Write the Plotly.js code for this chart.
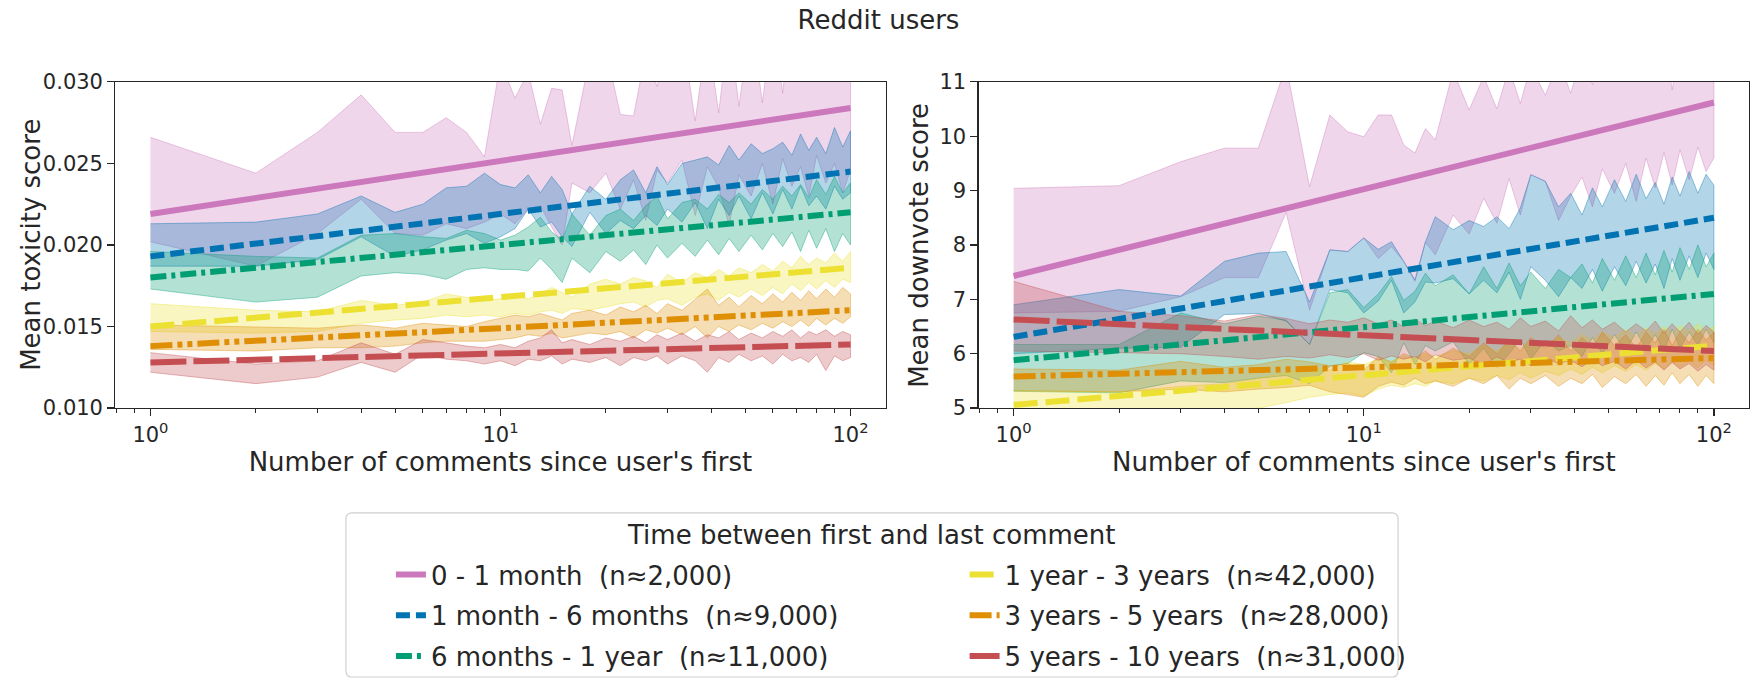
<!DOCTYPE html>
<html>
<head>
<meta charset="utf-8">
<script src="https://cdn.plot.ly/plotly-3.0.1.min.js"></script>
<style>body{margin:0;background:#fff}</style>
</head>
<body>
<div id="graphDiv" style="width:1757px;height:688px"></div>
<script>
// comment index (x) where the bands are sampled
const comments = [1,2,3,4,5,6,7,8,9,10,11,12,13,14,15,16,18,20,22,24,26,28,30,33,36,39,42,45,48,52,56,60,64,68,72,76,80,85,90,95,100];
const fitComments = [1, 100];

const groupLabels = [
    "0 - 1 month \u00a0(n\u22482,000)",
    "1 month - 6 months \u00a0(n\u22489,000)",
    "6 months - 1 year \u00a0(n\u224811,000)",
    "1 year - 3 years \u00a0(n\u224842,000)",
    "3 years - 5 years \u00a0(n\u224828,000)",
    "5 years - 10 years \u00a0(n\u224831,000)"
];

// mean toxicity score, band upper / lower
const toxHi_m0_1 = [0.0266,0.0244,0.0269,0.0292,0.0269,0.0269,0.0278,0.0269,0.0254,0.0312,0.0290,0.0306,0.0274,0.0296,0.0295,0.0261,0.0315,0.0320,0.0280,0.0279,0.0318,0.0297,0.0325,0.0330,0.0276,0.0330,0.0281,0.0335,0.0285,0.0340,0.0287,0.0340,0.0293,0.0345,0.0335,0.0300,0.0350,0.0310,0.0345,0.0320,0.0340];
const toxLo_m0_1 = [0.0202,0.0187,0.0207,0.0228,0.0207,0.0206,0.0213,0.0210,0.0214,0.0219,0.0213,0.0222,0.0224,0.0211,0.0200,0.0238,0.0232,0.0244,0.0222,0.0240,0.0215,0.0246,0.0238,0.0252,0.0218,0.0248,0.0235,0.0212,0.0243,0.0230,0.0250,0.0225,0.0253,0.0236,0.0248,0.0230,0.0255,0.0238,0.0250,0.0232,0.0246];
const toxHi_m1_6 = [0.0213,0.0214,0.0219,0.0230,0.0220,0.0225,0.0235,0.0236,0.0244,0.0237,0.0235,0.0243,0.0232,0.0242,0.0234,0.0219,0.0236,0.0228,0.0240,0.0246,0.0232,0.0248,0.0237,0.0250,0.0252,0.0254,0.0249,0.0261,0.0252,0.0262,0.0256,0.0259,0.0263,0.0255,0.0268,0.0258,0.0266,0.0256,0.0272,0.0260,0.0270];
const toxLo_m1_6 = [0.0187,0.0187,0.0191,0.0205,0.0193,0.0197,0.0203,0.0207,0.0201,0.0205,0.0210,0.0222,0.0211,0.0214,0.0205,0.0199,0.0220,0.0207,0.0215,0.0210,0.0218,0.0212,0.0222,0.0214,0.0226,0.0210,0.0228,0.0218,0.0230,0.0216,0.0232,0.0219,0.0234,0.0222,0.0236,0.0224,0.0230,0.0222,0.0236,0.0228,0.0232];
const toxHi_m6_12 = [0.0196,0.0193,0.0192,0.0206,0.0207,0.0205,0.0204,0.0209,0.0207,0.0203,0.0206,0.0211,0.0217,0.0208,0.0203,0.0219,0.0206,0.0218,0.0222,0.0215,0.0224,0.0230,0.0216,0.0226,0.0228,0.0222,0.0231,0.0226,0.0232,0.0225,0.0234,0.0228,0.0236,0.0230,0.0237,0.0229,0.0240,0.0231,0.0242,0.0232,0.0238];
const toxLo_m6_12 = [0.0173,0.0165,0.0168,0.0181,0.0183,0.0182,0.0179,0.0185,0.0186,0.0185,0.0185,0.0184,0.0192,0.0185,0.0177,0.0192,0.0183,0.0196,0.0190,0.0197,0.0188,0.0200,0.0192,0.0201,0.0193,0.0203,0.0194,0.0204,0.0196,0.0206,0.0197,0.0207,0.0199,0.0208,0.0196,0.0209,0.0198,0.0210,0.0196,0.0207,0.0200];
const toxHi_y1_3 = [0.0164,0.0160,0.0159,0.0166,0.0163,0.0165,0.0170,0.0168,0.0166,0.0167,0.0169,0.0167,0.0170,0.0174,0.0171,0.0168,0.0176,0.0179,0.0176,0.0180,0.0178,0.0174,0.0182,0.0177,0.0183,0.0180,0.0185,0.0181,0.0186,0.0183,0.0188,0.0184,0.0190,0.0186,0.0193,0.0188,0.0192,0.0189,0.0195,0.0190,0.0196];
const toxLo_y1_3 = [0.0147,0.0146,0.0147,0.0152,0.0154,0.0155,0.0157,0.0156,0.0157,0.0156,0.0158,0.0157,0.0159,0.0160,0.0158,0.0161,0.0160,0.0162,0.0164,0.0165,0.0162,0.0166,0.0167,0.0163,0.0168,0.0170,0.0166,0.0171,0.0168,0.0173,0.0169,0.0174,0.0170,0.0176,0.0172,0.0177,0.0173,0.0178,0.0174,0.0179,0.0177];
const toxHi_y3_5 = [0.0151,0.0150,0.0149,0.0151,0.0149,0.0152,0.0151,0.0150,0.0153,0.0155,0.0157,0.0156,0.0158,0.0156,0.0154,0.0158,0.0160,0.0157,0.0162,0.0159,0.0163,0.0158,0.0164,0.0160,0.0167,0.0173,0.0163,0.0168,0.0162,0.0169,0.0164,0.0170,0.0165,0.0171,0.0166,0.0172,0.0167,0.0173,0.0168,0.0174,0.0170];
const toxLo_y3_5 = [0.0136,0.0135,0.0137,0.0137,0.0138,0.0140,0.0141,0.0141,0.0141,0.0142,0.0143,0.0145,0.0144,0.0146,0.0143,0.0144,0.0146,0.0145,0.0147,0.0143,0.0148,0.0146,0.0149,0.0145,0.0150,0.0143,0.0150,0.0147,0.0151,0.0148,0.0152,0.0149,0.0153,0.0150,0.0154,0.0150,0.0155,0.0151,0.0155,0.0152,0.0156];
const toxHi_y5_10 = [0.0134,0.0127,0.0129,0.0140,0.0133,0.0142,0.0140,0.0138,0.0137,0.0139,0.0137,0.0141,0.0143,0.0148,0.0140,0.0142,0.0139,0.0143,0.0141,0.0144,0.0140,0.0145,0.0142,0.0146,0.0141,0.0145,0.0143,0.0147,0.0142,0.0146,0.0143,0.0147,0.0144,0.0148,0.0143,0.0147,0.0145,0.0148,0.0144,0.0147,0.0145];
const toxLo_y5_10 = [0.0122,0.0115,0.0119,0.0128,0.0122,0.0133,0.0130,0.0129,0.0127,0.0129,0.0126,0.0130,0.0129,0.0132,0.0127,0.0130,0.0128,0.0131,0.0126,0.0131,0.0129,0.0132,0.0127,0.0132,0.0129,0.0122,0.0131,0.0128,0.0133,0.0129,0.0132,0.0127,0.0133,0.0129,0.0131,0.0128,0.0133,0.0123,0.0132,0.0129,0.0131];

// fitted trend at 1 and 100 comments
const toxFit_m0_1 = [0.0219, 0.0284];
const toxFit_m1_6 = [0.0193, 0.0245];
const toxFit_m6_12 = [0.0180, 0.0220];
const toxFit_y1_3 = [0.0150, 0.0186];
const toxFit_y3_5 = [0.0138, 0.0160];
const toxFit_y5_10 = [0.0128, 0.0139];

// mean downvote score, band upper / lower
const dvHi_m0_1 = [9.04,9.09,9.53,9.78,9.78,11.30,9.07,10.39,10.08,9.99,10.39,10.39,9.84,9.69,10.14,9.93,11.20,10.48,11.10,10.50,11.25,10.60,11.30,10.75,11.40,10.79,11.50,10.95,11.60,11.10,11.70,11.00,11.80,11.20,11.90,10.85,11.80,11.40,12.00,11.30,11.90];
const dvLo_m0_1 = [6.75,6.78,7.05,7.40,7.40,8.60,6.80,7.91,7.88,8.13,7.75,7.97,7.70,7.33,8.05,7.82,8.55,8.20,8.86,8.40,9.22,8.55,9.30,9.17,8.45,8.90,9.25,8.70,9.40,8.95,9.50,8.80,9.60,9.05,9.70,9.10,9.75,9.20,9.80,9.35,9.60];
const dvHi_m1_6 = [6.90,7.18,7.06,7.70,7.85,7.88,6.95,7.91,7.88,8.13,7.92,8.06,7.70,7.36,8.06,8.52,8.28,8.45,8.34,8.52,8.30,8.68,9.29,9.17,8.70,8.95,8.55,9.05,8.70,9.20,8.80,9.30,8.85,9.15,8.75,9.25,8.90,9.35,8.95,9.30,9.10];
const dvLo_m1_6 = [6.00,6.10,6.12,6.72,6.74,6.60,6.17,7.18,7.12,6.75,6.97,7.35,6.75,6.95,7.32,7.30,7.38,7.10,7.35,7.12,7.50,7.00,7.60,7.35,7.05,7.40,7.20,7.55,7.15,7.60,7.25,7.70,7.30,7.65,7.20,7.75,7.35,7.80,7.40,7.85,7.55];
const dvHi_m6_12 = [6.17,6.17,6.75,6.55,6.69,6.62,6.17,7.12,7.18,6.85,7.10,7.42,6.98,7.15,7.48,7.25,7.45,7.10,7.60,7.20,7.67,7.25,7.50,7.20,7.55,7.40,7.65,7.30,7.75,7.35,7.80,7.40,7.85,7.45,7.90,7.50,7.95,7.55,8.00,7.60,7.85];
const dvLo_m6_12 = [5.31,5.28,5.50,5.47,5.55,5.60,5.45,5.77,5.82,6.02,5.95,5.65,6.20,5.80,6.15,6.05,6.22,5.80,6.10,5.75,6.00,6.26,5.90,6.25,6.05,6.15,5.95,6.30,6.00,6.35,6.05,6.40,6.10,6.35,6.05,6.45,6.10,6.40,6.15,6.45,6.20];
const dvHi_y1_3 = [5.32,5.30,5.40,5.45,5.55,5.65,5.75,5.70,5.85,5.80,5.90,5.85,5.95,5.90,6.00,5.95,6.05,6.00,6.15,6.05,6.20,6.10,6.25,6.15,6.30,6.20,6.35,6.25,6.40,6.30,6.45,6.32,6.48,6.35,6.50,6.38,6.52,6.40,6.55,6.42,6.50];
const dvLo_y1_3 = [4.80,4.85,4.90,4.95,5.00,5.10,5.20,5.25,5.28,5.22,5.35,5.42,5.38,5.45,5.40,5.50,5.45,5.55,5.50,5.60,5.52,5.65,5.55,5.68,5.60,5.72,5.62,5.75,5.65,5.78,5.68,5.80,5.70,5.82,5.72,5.85,5.75,5.86,5.74,5.88,5.78];
const dvHi_y3_5 = [5.72,5.70,5.86,5.75,5.80,5.90,5.85,5.78,5.82,5.70,5.95,5.85,6.00,5.92,6.05,5.90,6.10,5.95,6.20,6.00,6.25,6.05,6.30,6.10,6.35,6.05,6.30,6.10,6.40,6.15,6.35,6.10,6.40,6.20,6.45,6.15,6.40,6.20,6.45,6.25,6.40];
const dvLo_y3_5 = [5.32,5.30,5.35,5.30,5.35,5.38,5.42,5.30,5.25,5.20,5.40,5.48,5.42,5.55,5.45,5.50,5.40,5.55,5.45,5.60,5.35,5.55,5.45,5.60,5.40,5.55,5.45,5.62,5.38,5.58,5.45,5.62,5.40,5.60,5.42,5.65,5.45,5.62,5.40,5.60,5.45];
const dvHi_y5_10 = [7.33,6.78,6.70,6.60,6.72,6.65,6.55,6.62,6.58,6.66,6.55,6.62,6.50,6.64,6.52,6.60,6.48,6.62,6.50,6.58,6.45,6.66,6.50,6.60,6.42,6.70,6.48,6.62,6.45,6.58,6.40,6.55,6.42,6.60,6.38,6.55,6.40,6.58,6.36,6.52,6.40];
const dvLo_y5_10 = [6.05,6.02,6.00,5.95,5.90,5.95,5.92,5.98,5.93,6.00,5.88,5.96,5.90,5.95,5.85,5.98,5.88,5.92,5.80,5.94,5.85,5.90,5.78,5.92,5.82,5.88,5.76,5.90,5.78,5.86,5.72,5.88,5.74,5.85,5.70,5.84,5.72,5.82,5.68,5.80,5.70];

const dvFit_m0_1 = [7.43, 10.62];
const dvFit_m1_6 = [6.31, 8.50];
const dvFit_m6_12 = [5.88, 7.10];
const dvFit_y1_3 = [5.06, 6.15];
const dvFit_y3_5 = [5.58, 5.92];
const dvFit_y5_10 = [6.63, 6.05];

const toxBands = [[toxHi_m0_1,toxLo_m0_1],[toxHi_m1_6,toxLo_m1_6],[toxHi_m6_12,toxLo_m6_12],[toxHi_y1_3,toxLo_y1_3],[toxHi_y3_5,toxLo_y3_5],[toxHi_y5_10,toxLo_y5_10]];
const toxFits = [toxFit_m0_1,toxFit_m1_6,toxFit_m6_12,toxFit_y1_3,toxFit_y3_5,toxFit_y5_10];
const dvBands = [[dvHi_m0_1,dvLo_m0_1],[dvHi_m1_6,dvLo_m1_6],[dvHi_m6_12,dvLo_m6_12],[dvHi_y1_3,dvLo_y1_3],[dvHi_y3_5,dvLo_y3_5],[dvHi_y5_10,dvLo_y5_10]];
const dvFits = [dvFit_m0_1,dvFit_m1_6,dvFit_m6_12,dvFit_y1_3,dvFit_y3_5,dvFit_y5_10];

// styles
const palette = [[204,120,188],[1,115,178],[2,158,115],[236,225,51],[222,143,5],[196,78,82]];
const dashes = ["solid","14px,6px","16px,5px,4px,5px","24px,8px","22px,5px,5px,5px,5px,5px","36px,7px"];

function rgba(c, a) { return "rgba(" + c.join(",") + "," + a + ")"; }

function band(hi, lo, i, xa, ya) {
    return {
        x: comments.concat(comments.slice().reverse()),
        y: hi.concat(lo.slice().reverse()),
        type: "scatter", mode: "lines", fill: "toself",
        fillcolor: rgba(palette[i], 0.3),
        line: {color: rgba(palette[i], 0.4), width: 1},
        xaxis: xa, yaxis: ya, showlegend: false, hoverinfo: "skip"
    };
}
function fitLine(vals, i, xa, ya, legendOn) {
    return {
        x: fitComments, y: vals, type: "scatter", mode: "lines",
        name: groupLabels[i], legendgroup: "g" + i,
        legend: i < 3 ? "legend" : "legend2",
        line: {color: rgba(palette[i], 1), width: 6, dash: dashes[i]},
        xaxis: xa, yaxis: ya, showlegend: legendOn, hoverinfo: "skip"
    };
}

let traces = [];
toxBands.forEach((b, i) => traces.push(band(b[0], b[1], i, "x", "y")));
dvBands.forEach((b, i) => traces.push(band(b[0], b[1], i, "x2", "y2")));
toxFits.forEach((f, i) => traces.push(fitLine(f, i, "x", "y", true)));
dvFits.forEach((f, i) => traces.push(fitLine(f, i, "x2", "y2", false)));

const ink = "#262626";
function xAxis(domain, anchor) {
    return {
        type: "log", range: [-0.1, 2.1], domain: domain, anchor: anchor,
        tickmode: "array", tickvals: [1, 10, 100],
        ticktext: ["10<sup>0</sup>", "10<sup>1</sup>", "10<sup>2</sup>"],
        ticks: "outside", ticklen: 7, tickwidth: 1.25, tickcolor: ink,
        minor: {tickmode: "array", tickvals: [0.8,0.9,2,3,4,5,6,7,8,9,20,30,40,50,60,70,80,90],
                ticks: "outside", ticklen: 4, tickwidth: 1, tickcolor: ink, showgrid: false},
        showline: true, mirror: true, linecolor: ink, linewidth: 1.25,
        showgrid: false, zeroline: false, tickfont: {size: 21},
        title: {text: "Number of comments since user's first", font: {size: 26}, standoff: 5}
    };
}
function yAxis(range, dtick, fmt, anchor) {
    return {
        range: range, dtick: dtick, tick0: 0, tickformat: fmt,
        domain: [0.4068, 0.8811], anchor: anchor,
        ticks: "outside", ticklen: 7, tickwidth: 1.25, tickcolor: ink,
        showline: true, mirror: true, linecolor: ink, linewidth: 1.25,
        showgrid: false, zeroline: false, tickfont: {size: 21}
    };
}
function yTitle(text, x) {
    return {
        text: text, xref: "paper", yref: "paper", x: x, y: 0.644,
        xanchor: "center", yanchor: "middle", textangle: -90,
        showarrow: false, font: {size: 26}
    };
}

// rounded legend frame
const bx0 = 0.1969, bx1 = 0.7957, by0 = 0.016, by1 = 0.2544, rx = 0.0034, ry = 0.0087;
const framePath = `M${bx0+rx},${by0} L${bx1-rx},${by0} Q${bx1},${by0} ${bx1},${by0+ry} L${bx1},${by1-ry} Q${bx1},${by1} ${bx1-rx},${by1} L${bx0+rx},${by1} Q${bx0},${by1} ${bx0},${by1-ry} L${bx0},${by0+ry} Q${bx0},${by0} ${bx0+rx},${by0} Z`;

const legendBase = {
    orientation: "v", yanchor: "top", y: 0.199, xanchor: "left",
    font: {size: 26, color: ink}, bgcolor: "rgba(0,0,0,0)", borderwidth: 0,
    traceorder: "grouped", tracegroupgap: 4
};

const layout = {
    width: 1757, height: 688,
    margin: {l: 0, r: 0, t: 0, b: 0},
    paper_bgcolor: "white", plot_bgcolor: "white",
    font: {family: "DejaVu Sans", color: ink, size: 21},
    title: {text: "Reddit users", x: 0.5, xanchor: "center", y: 0.971, yanchor: "middle", font: {size: 26}},
    xaxis: xAxis([0.0657, 0.5040], "y"),
    yaxis: yAxis([0.010, 0.030], 0.005, ".3f", "x"),
    xaxis2: xAxis([0.5570, 0.9954], "y2"),
    yaxis2: yAxis([5, 11], 1, "d", "x2"),
    legend: Object.assign({}, legendBase, {x: 0.2225}),
    legend2: Object.assign({}, legendBase, {x: 0.5490}),
    annotations: [
        yTitle("Mean toxicity score", 0.0176),
        yTitle("Mean downvote score", 0.5230),
        {
            text: "Time between first and last comment", xref: "paper", yref: "paper",
            x: 0.4963, y: 0.2224, xanchor: "center", yanchor: "middle",
            showarrow: false, font: {size: 26}
        }
    ],
    shapes: [{type: "path", xref: "paper", yref: "paper", path: framePath,
              line: {color: "#d0d0d0", width: 1.2}, layer: "below"}]
};

Plotly.newPlot("graphDiv", traces, layout, {displayModeBar: false, staticPlot: true});
</script>
</body>
</html>
